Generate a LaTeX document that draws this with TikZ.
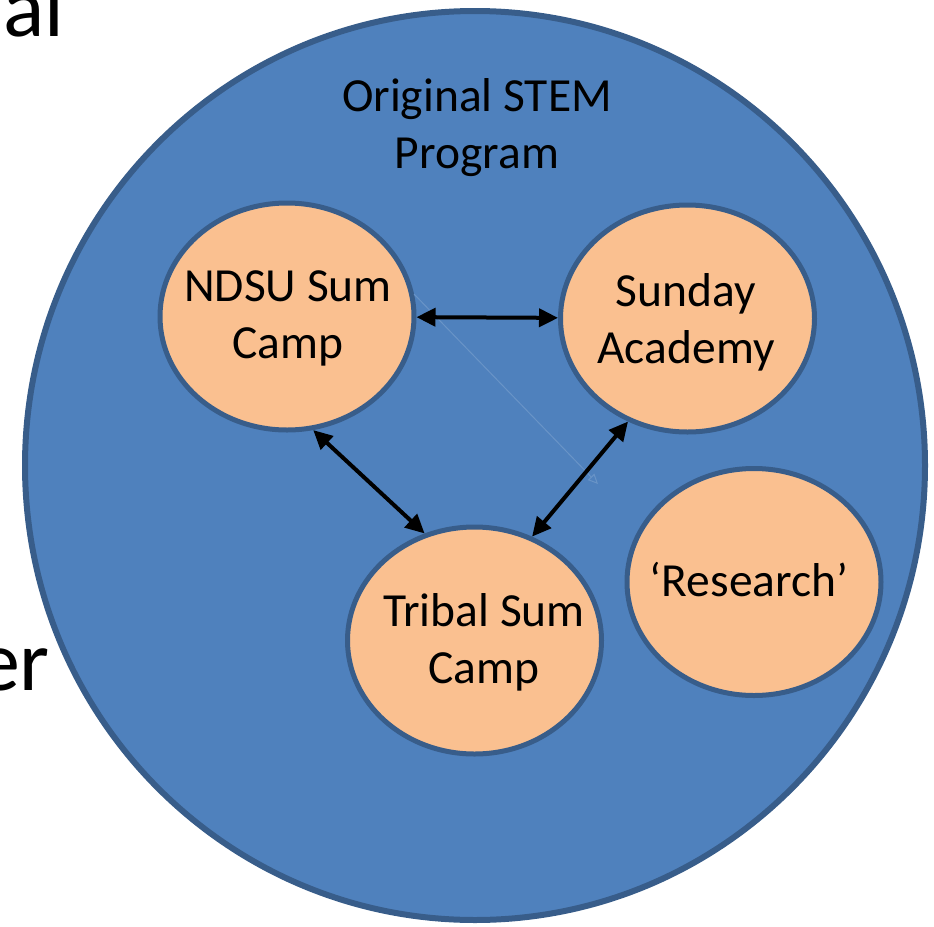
\documentclass[tikz,border=0pt]{standalone}
\usepackage{fontspec}
\setmainfont{Carlito}
\usetikzlibrary{shapes.geometric,arrows.meta}
\definecolor{stemblue}{HTML}{4F81BD}
\definecolor{stemedge}{HTML}{385D8A}
\definecolor{campfill}{HTML}{FAC090}

\begin{document}
\begin{tikzpicture}[x = 1pt, y = -1pt,
    program/.style = {ellipse, draw = stemedge, fill = campfill, line width = 5pt,
      minimum width = 254pt, minimum height = 227pt, inner sep = 0pt},
    words/.style = {align = center, inner sep = 0pt, font = \fontsize{47.5}{57}\selectfont},
    bigword/.style = {inner sep = 0pt, font = \fontsize{86}{100}\selectfont},
    link/.style = {{Triangle[length = 19pt, width = 18pt]}-{Triangle[length = 19pt, width = 18pt]},
      line width = 4pt}]
  \useasboundingbox (0, 0) rectangle (934, 926);
  % words of the slide behind
  \node[bigword, anchor = base west] (al) at (3, 36) {al};
  \node[bigword, anchor = base east] (er) at (50, 690) {er};
  % the whole program
  \node[ellipse, draw = stemedge, fill = stemblue, line width = 6pt,
    minimum width = 900pt, minimum height = 909pt, inner sep = 0pt] (stem) at (475, 465.5) {};
  \node[words] (title) at (477, 128) {Original STEM\\Program};
  \node[program] (ndsu) at (287, 316.5) {};
  \node[program] (sunday) at (687.5, 318.5) {};
  \node[program] (tribal) at (474.5, 640.5) {};
  \node[program] (research) at (754, 582) {};
  \node[words] (ndsutext) at (288, 318) {NDSU Sum\\Camp};
  \node[words] (sundaytext) at (686, 322) {Sunday\\Academy};
  \node[words] (tribaltext) at (484, 642) {Tribal Sum\\Camp};
  \node[words] (researchtext) at (749, 580) {‘Research’};
  \coordinate (stray) at (598, 484);
  \draw[stemblue!85!white, line width = 1pt, -{Triangle[open, length = 10pt, width = 9pt]}]
    (ndsu.10) -- (stray);
  \draw[link] (ndsu) -- (sunday);
  \draw[link] (ndsu.-77) -- (tribal.115);
  \draw[link] (sunday.240) -- (tribal.61);
\end{tikzpicture}
\end{document}
